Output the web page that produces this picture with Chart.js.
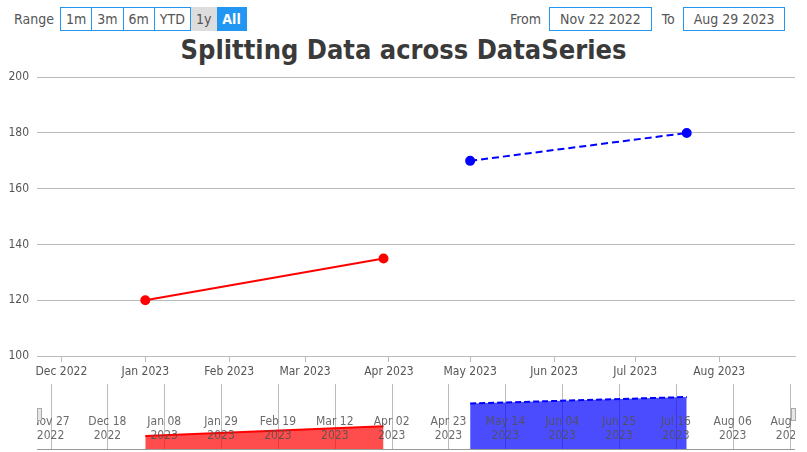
<!DOCTYPE html>
<html lang="en">
<head>
<meta charset="UTF-8">
<title>Splitting Data across DataSeries</title>
<script src="https://cdn.jsdelivr.net/npm/chart.js"></script>
<style>
  body { margin:0; width:807px; height:452px; position:relative; background:#fff; font-family:"DejaVu Sans Condensed", "DejaVu Sans", sans-serif; color:#555; overflow:hidden; }
  .bar { position:absolute; top:7px; font-size:14px; display:flex; align-items:center; }
  .btn { border:1px solid #2196f3; border-left:none; height:22px; line-height:22px; padding:0 5px; color:#555; }
  .btn.first { border-left:1px solid #2196f3; }
  .btn.sel { background:#ddd; border-color:#ddd; }
  .btn.act { background:#2196f3; color:#fff; font-weight:bold; border-color:#2196f3; }
  .inp { border:1px solid #2196f3; height:22px; line-height:22px; padding:0 10px; margin-left:8px; margin-right:10px; color:#555; }
  h1 { position:absolute; top:34px; left:0; width:807px; margin:0; text-align:center; font-size:27px; color:#3a3a3a; }
  #main { position:absolute; left:0; top:62px; }
  #nav { position:absolute; left:0; top:384px; }
</style>
</head>
<body>
<div class="bar" style="left:14px">
  <span style="margin-right:6px">Range</span>
  <span class="btn first">1m</span><span class="btn">3m</span><span class="btn">6m</span><span class="btn">YTD</span><span class="btn sel">1y</span><span class="btn act">All</span>
</div>
<div class="bar" style="left:510px">
  <span>From</span><span class="inp">Nov 22 2022</span><span>To</span><span class="inp" style="margin-right:0">Aug 29 2023</span>
</div>
<h1>Splitting Data across DataSeries</h1>
<canvas id="main" width="807" height="322"></canvas>
<canvas id="nav" width="807" height="68"></canvas>
<script>
var d = function (y, m, day) { return Date.UTC(y, m - 1, day); };
var redDates = [d(2023, 1, 1), d(2023, 3, 30)];
var redValues = [120, 135];
var blueDates = [d(2023, 5, 1), d(2023, 7, 20)];
var blueValues = [170, 180];
var xMin = d(2022, 11, 22), xMax = d(2023, 8, 29);
var monthTicks = [d(2022,12,1), d(2023,1,1), d(2023,2,1), d(2023,3,1), d(2023,4,1), d(2023,5,1), d(2023,6,1), d(2023,7,1), d(2023,8,1)];
var navTicks = [d(2022,11,27), d(2022,12,18), d(2023,1,8), d(2023,1,29), d(2023,2,19), d(2023,3,12), d(2023,4,2), d(2023,4,23), d(2023,5,14), d(2023,6,4), d(2023,6,25), d(2023,7,16), d(2023,8,6), d(2023,8,27)];
var yTicks = [100, 120, 140, 160, 180, 200];

var MON = ['Jan','Feb','Mar','Apr','May','Jun','Jul','Aug','Sep','Oct','Nov','Dec'];
var FONT = '"DejaVu Sans Condensed", "DejaVu Sans", sans-serif';
function pts(xs, ys) { return xs.map(function (x, i) { return { x: x, y: ys[i] }; }); }
function monthLabel(v) { var t = new Date(v); return MON[t.getUTCMonth()] + ' ' + t.getUTCFullYear(); }

new Chart(document.getElementById('main'), {
  type: 'line',
  data: { datasets: [
    { data: pts(redDates, redValues), borderColor: 'red', backgroundColor: 'red', borderWidth: 2, pointRadius: 4 },
    { data: pts(blueDates, blueValues), borderColor: 'blue', backgroundColor: 'blue', borderWidth: 2, borderDash: [7, 4], pointRadius: 4 }
  ]},
  options: {
    responsive: false, animation: false,
    layout: { padding: { top: 13, right: 12, left: 0, bottom: 0 } },
    plugins: { legend: { display: false }, tooltip: { enabled: false } },
    scales: {
      x: {
        type: 'linear', min: xMin, max: xMax,
        afterBuildTicks: function (s) { s.ticks = monthTicks.map(function (v) { return { value: v }; }); },
        ticks: { callback: monthLabel, color: '#555', font: { family: FONT, size: 12 }, maxRotation: 0, autoSkip: false },
        grid: { drawOnChartArea: false, tickLength: 6, color: '#bbb' },
        border: { color: '#bbb' },
        afterFit: function (s) { s.height = 28; }
      },
      y: {
        min: 100, max: 200,
        afterBuildTicks: function (s) { s.ticks = yTicks.map(function (v) { return { value: v }; }); },
        ticks: { color: '#555', font: { family: FONT, size: 12 }, padding: 8 },
        grid: { color: '#bbb', drawTicks: false },
        border: { display: false },
        afterFit: function (s) { s.width = 37; }
      }
    }
  }
});

var navLabels = {
  id: 'navLabels',
  beforeDatasetsDraw: function (c) {
    var x = c.scales.x, a = c.chartArea, ctx = c.ctx;
    ctx.save();
    ctx.strokeStyle = '#bbb'; ctx.lineWidth = 1;
    navTicks.forEach(function (v) {
      var px = Math.round(x.getPixelForValue(v)) + 0.5;
      ctx.beginPath(); ctx.moveTo(px, a.top); ctx.lineTo(px, a.bottom); ctx.stroke();
    });
    ctx.restore();
  },
  afterDatasetsDraw: function (c) {
    var x = c.scales.x, a = c.chartArea, ctx = c.ctx;
    ctx.save();
    ctx.beginPath(); ctx.rect(a.left, 0, a.right - a.left, c.height); ctx.clip();
    ctx.fillStyle = 'rgba(80,80,80,0.85)';
    ctx.font = '12px ' + FONT; ctx.textAlign = 'center'; ctx.textBaseline = 'middle';
    navTicks.forEach(function (v) {
      var px = x.getPixelForValue(v), t = new Date(v);
      var dd = ('0' + t.getUTCDate()).slice(-2);
      ctx.fillText(MON[t.getUTCMonth()] + ' ' + dd, px, 38);
      ctx.fillText(String(t.getUTCFullYear()), px, 52);
    });
    ctx.restore();
    ctx.save();
    ctx.strokeStyle = '#999'; ctx.lineWidth = 1;
    ctx.beginPath(); ctx.moveTo(a.left, a.bottom + 0.5); ctx.lineTo(a.right, a.bottom + 0.5); ctx.stroke();
    ctx.fillStyle = '#e6e6e6'; ctx.strokeStyle = '#aaa';
    [a.left, a.right - 4].forEach(function (px) {
      ctx.fillRect(px, 24, 4, 12); ctx.strokeRect(px + 0.5, 24.5, 4, 12);
    });
    ctx.restore();
  }
};

new Chart(document.getElementById('nav'), {
  type: 'line',
  data: { datasets: [
    { data: pts(redDates, redValues), borderColor: 'red', backgroundColor: 'rgba(255,0,0,0.7)', fill: 'start', borderWidth: 2, pointRadius: 0 },
    { data: pts(blueDates, blueValues), borderColor: 'blue', backgroundColor: 'rgba(0,0,255,0.7)', fill: 'start', borderWidth: 2, borderDash: [6, 3], pointRadius: 0 }
  ]},
  options: {
    responsive: false, animation: false,
    layout: { padding: { top: 0, right: 12, left: 37, bottom: 3 } },
    plugins: { legend: { display: false }, tooltip: { enabled: false } },
    scales: {
      x: { type: 'linear', min: xMin, max: xMax, display: false },
      y: { min: 100, max: 200, display: false }
    }
  },
  plugins: [navLabels]
});
</script>
</body>
</html>
